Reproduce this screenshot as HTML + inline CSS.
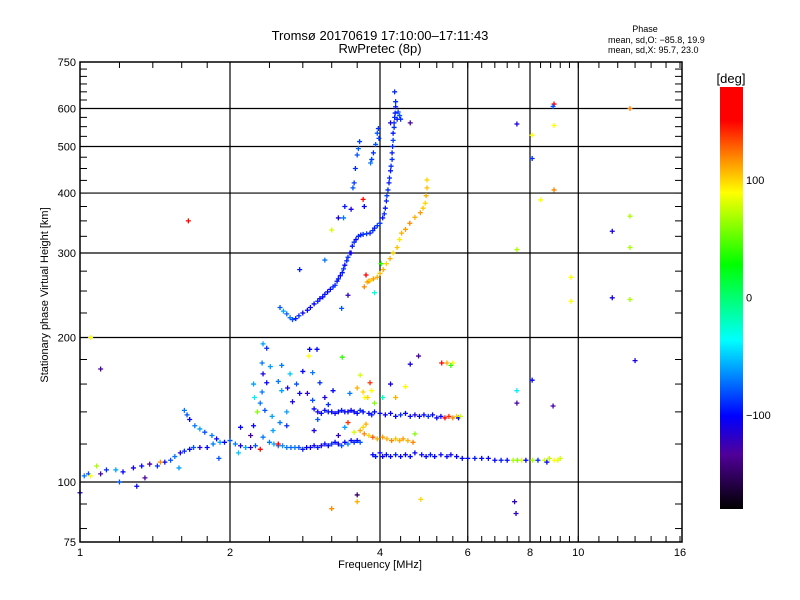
<!DOCTYPE html>
<html><head><meta charset="utf-8"><style>
html,body{margin:0;padding:0;background:#fff;}
svg{display:block;font-family:"Liberation Sans",sans-serif;}
</style></head><body>
<svg id="chart" width="800" height="600" viewBox="0 0 800 600" xmlns="http://www.w3.org/2000/svg">
<defs>
<linearGradient id="cbar" x1="0" y1="0" x2="0" y2="1">
<stop offset="0" stop-color="#ff0000"/><stop offset="0.08" stop-color="#ff0000"/>
<stop offset="0.17" stop-color="#ff8c00"/><stop offset="0.25" stop-color="#ffff00"/>
<stop offset="0.42" stop-color="#00ff00"/><stop offset="0.6" stop-color="#00ffff"/>
<stop offset="0.78" stop-color="#0000ff"/><stop offset="0.87" stop-color="#50009a"/>
<stop offset="1" stop-color="#000000"/>
</linearGradient>
</defs>
<rect width="800" height="600" fill="#fff"/>
<g id="grid"></g>
<g id="marks"></g>
<rect x="80" y="62" width="602" height="480" fill="none" stroke="#000" stroke-width="1.5"/>
<g id="axes" font-size="11" fill="#000"></g>
<text x="380" y="40" text-anchor="middle" font-size="13">Tromsø 20170619 17:10:00–17:11:43</text>
<text x="380" y="53" text-anchor="middle" font-size="13">RwPretec (8p)</text>
<text x="645" y="32" text-anchor="middle" font-size="9">Phase</text>
<text x="608" y="43" font-size="9">mean, sd,O: −85.8, 19.9</text>
<text x="608" y="53" font-size="9">mean, sd,X:  95.7, 23.0</text>
<text x="380" y="568" text-anchor="middle" font-size="11">Frequency [MHz]</text>
<text transform="translate(48,295) rotate(-90)" text-anchor="middle" font-size="11">Stationary phase Virtual Height [km]</text>
<rect x="720" y="87" width="23" height="422" fill="url(#cbar)"/>
<text x="731" y="83" text-anchor="middle" font-size="13">[deg]</text>
<g id="cbticks" font-size="11"></g>
</svg>
<script>
const xMajor=[1,2,4,6,8,10,16];
const xMinor=[1.2,1.4,1.6,1.8,2.4,2.8,3.2,3.6,4.4,4.8,5.2,5.6,6.4,6.8,7.2,7.6,8.4,8.8,9.2,9.6,11,12,13,14,15];
const xGrid=[2,4,6,8,10];
const yMajor=[75,100,200,300,400,500,600,750];
const yMinor=[80,90,120,140,160,180,225,250,275,325,350,375,425,450,475,525,550,575,625,650,675,700,725];
const yGrid=[100,200,300,400,500,600];
const cbTicks=[100,0,-100];

// [freq MHz, virtual height km, phase deg]
const upperO=[[2.52,231,-80],[2.56,227,-60],[2.6,224,-75],[2.64,220,-70],[2.67,218,-80],[2.71,219,-95],[2.75,222,-90],[2.8,225,-100],[2.86,228,-100],[2.9,231,-105],[2.95,235,-100],[3.0,238,-95],[3.03,241,-100],[3.07,243,-100],[3.1,246,-95],[3.14,249,-105],[3.18,252,-100],[3.22,255,-90],[3.25,257,-90],[3.28,262,-95],[3.3,265,-95],[3.33,269,-100],[3.36,273,-95],[3.38,278,-90],[3.4,283,-100],[3.43,289,-90],[3.45,294,-90],[3.48,300,-95],[3.52,310,-95],[3.55,316,-90],[3.58,320,-100],[3.62,325,-90],[3.66,327,-95],[3.7,328,-90],[3.76,329,-85],[3.82,330,-95],[3.87,334,-90],[3.9,338,-95],[3.95,342,-85],[4.0,346,-90],[4.05,355,-95],[4.08,362,-90],[4.1,372,-95],[4.12,385,-95],[4.13,395,-85],[4.15,406,-90],[4.17,420,-95],[4.18,430,-90],[4.2,445,-95],[4.21,455,-90],[4.23,470,-90],[4.23,485,-95],[4.24,500,-90],[4.25,515,-85],[4.25,533,-95],[4.27,548,-90],[4.27,560,-90],[4.28,575,-90],[4.29,587,-95],[4.3,605,-95],[4.3,620,-90],[4.28,650,-90],[4.35,590,-85],[4.38,580,-80],[4.4,570,-90],[4.33,570,-95],[3.95,533,-80],[3.98,520,-85],[3.97,545,-90],[3.92,505,-80],[3.88,485,-90],[3.85,470,-85],[3.83,462,-70],[3.64,512,-85],[3.62,495,-75],[3.6,480,-80],[3.57,450,-90],[3.55,420,-85],[3.53,410,-80],[3.4,375,-95],[3.38,355,-70],[3.3,355,-110],[2.76,277,-95],[3.5,300,-110],[3.35,230,-80],[3.45,245,-120]];
const upperX=[[3.77,261,110],[3.8,262,120],[3.82,263,100],[3.88,265,115],[3.95,267,110],[4.0,272,105],[4.06,277,110],[4.12,285,100],[4.19,292,110],[4.25,300,100],[4.33,308,105],[4.38,320,95],[4.42,330,110],[4.5,336,115],[4.59,346,120],[4.7,356,110],[4.82,364,115],[4.88,372,105],[4.93,381,100],[4.95,395,110],[4.97,410,105],[4.97,426,100],[3.72,255,120],[3.9,248,-30],[4.02,285,40],[3.75,270,160]];
const eTrace=[[1.02,103,-70],[1.04,104,-80],[1.0,95,-110],[1.05,103,90],[1.1,104,-130],[1.13,106,-90],[1.18,106,-60],[1.22,105,-100],[1.28,107,-110],[1.33,108,-100],[1.38,109,-130],[1.43,108,-90],[1.48,110,-100],[1.52,111,-80],[1.55,113,-70],[1.59,115,-110],[1.62,116,-90],[1.66,117,-100],[1.69,118,-80],[1.74,118,-110],[1.8,118,-100],[1.85,120,-70],[1.91,121,-60],[1.95,121,-100],[2.0,122,-80],[2.05,120,-70],[2.1,119,-110],[2.15,118,-60],[2.2,118,-120],[2.25,119,-80],[1.62,141,-70],[1.64,138,-80],[1.66,135,-100],[1.7,131,-70],[1.74,129,-60],[1.78,127,-80],[1.84,125,-70],[1.88,123,-100],[1.08,108,70],[1.2,100,-80],[1.3,98,-100],[1.45,110,120],[1.35,102,-130],[1.58,107,-60],[1.9,112,-80],[2.08,115,-50],[2.3,117,150],[1.1,172,-130]];
const lowBands=[[2.4,121,-70],[2.45,120,-60],[2.5,119,-70],[2.55,119,-65],[2.6,118,-70],[2.65,118,-75],[2.7,118,-70],[2.75,118,-80],[2.8,117,-95],[2.85,118,-100],[2.9,118,-105],[2.95,119,-100],[3.0,118,-95],[3.05,119,-110],[3.1,120,-100],[3.15,119,-100],[3.2,120,-90],[3.25,121,-100],[3.3,120,-105],[3.35,119,-80],[3.4,121,-100],[3.45,120,-70],[3.5,122,-100],[3.55,121,-90],[3.6,122,-100],[3.65,121,-80],
[2.95,142,-100],[3.0,140,-105],[3.05,139,-100],[3.1,141,-100],[3.15,140,-95],[3.2,140,-100],[3.25,139,-105],[3.3,140,-100],[3.35,141,-95],[3.4,140,-100],[3.45,140,-100],[3.5,141,-105],[3.55,140,-100],[3.6,139,-100],[3.65,141,-90],[3.7,140,-100],[3.8,139,-100],[3.85,138,-95],[3.9,140,-100],[4.0,139,-100],[4.1,138,-105],[4.2,139,-100],[4.3,137,-100],[4.4,138,-90],[4.5,139,-100],[4.6,137,-100],[4.7,138,-110],[4.8,137,-100],[4.9,138,-100],[5.0,137,-90],[5.1,138,-100],[5.2,136,-100],[5.3,137,-100],[5.4,136,150],[5.5,137,140],[5.6,136,120],[5.7,137,100],[5.75,136,-100],[5.8,137,80],
[3.87,114,-100],[3.92,113,-95],[4.0,115,-100],[4.05,113,-105],[4.12,114,-100],[4.2,113,-100],[4.3,114,-95],[4.4,113,-100],[4.5,114,-105],[4.6,113,-100],[4.7,115,-100],[4.85,114,-100],[4.95,113,-100],[5.05,114,-95],[5.15,113,-100],[5.3,114,-100],[5.45,113,-100],[5.55,114,-105],[5.7,113,-100],[5.85,112,-100],[6.0,112,-100],[6.2,112,-95],[6.4,112,-100],[6.6,112,-100],[6.8,111,-100],[7.0,111,-95],[7.2,111,-100],[7.4,111,70],[7.55,111,60],[7.7,111,80],[7.85,111,-100],[8.1,111,70],[8.3,111,-90],[8.55,111,80],[8.75,112,75],[8.95,111,90],[9.1,111,85],[9.2,112,80],[8.65,110,-100],
[3.65,128,110],[3.72,126,120],[3.8,125,100],[3.87,124,130],[3.95,123,110],[4.05,124,115],[4.13,123,110],[4.22,122,120],[4.3,123,105],[4.38,122,110],[4.45,123,115],[4.55,122,110],[4.66,121,120],[4.7,126,60],[3.7,130,100],[3.75,132,110]];
const scatter=[[2.33,194,-60],[2.37,190,-90],[2.89,189,-100],[2.99,189,-100],[2.88,183,90],[2.32,177,-70],[2.41,174,-60],[2.54,175,-70],[2.33,168,-110],[2.64,168,-50],[2.23,160,-60],[2.37,161,-100],[2.5,162,-70],[2.32,154,-70],[2.54,155,-60],[2.61,157,-110],[2.24,150,-40],[2.3,146,-70],[2.35,141,-80],[2.43,137,-60],[2.52,133,-70],[2.6,131,-90],[2.27,140,60],[2.23,131,-100],[2.33,124,-70],[2.44,128,-60],[2.67,147,-110],[2.76,153,-100],[2.86,153,-120],[2.93,148,-80],[3.03,161,-90],[3.22,155,-100],[3.48,153,-70],[3.6,157,110],[3.7,154,100],[3.73,150,90],[3.82,161,140],[3.65,167,80],[2.93,169,-70],[3.36,182,40],[4.78,183,-130],[5.32,177,150],[5.45,177,110],[5.6,177,90],[5.55,175,40],[7.53,155,-40],[7.53,146,-130],[8.9,144,-130],[8.08,163,-100],[3.78,150,100],[3.85,155,90],[3.9,146,60],[4.05,150,-20],[4.3,150,110],[4.5,158,90],[4.2,160,-110],[2.8,170,-100],[2.72,160,-80],[3.1,150,-110],[3.15,145,-90],[3.0,135,-80],[2.95,128,-110],[3.3,125,-120],[3.4,130,-60],[3.55,127,80],[3.45,133,140],[2.5,120,160],[2.2,125,-130],[2.1,130,-100],[2.6,140,-60],
[1.65,350,170],[1.05,200,90],[4.6,176,-110],[4.83,92,100],[7.45,91,-120],[7.5,86,-120],[3.6,94,-150],[3.6,91,110],[3.2,88,120],[8.94,613,170],[8.9,606,-80],[12.7,600,120],[7.53,557,-110],[8.94,553,90],[8.08,528,90],[8.08,472,-90],[8.94,406,120],[8.4,387,90],[12.7,358,70],[11.7,333,-110],[12.7,308,70],[7.53,305,70],[9.67,267,90],[9.67,238,90],[11.7,242,-110],[12.7,240,70],[13.0,179,-110],[3.7,388,150],[3.5,370,-110],[3.2,335,80],[3.1,290,-70],[4.2,560,-110],[4.6,560,-130],[3.72,375,-100]];

const groups=[upperO,upperX,eTrace,lowBands,scatter];
const X=f=>80+150*Math.log2(f);
const Y=h=>542-480*Math.log10(h/75);
const cbY=v=>297.5-v*1.175;
const stops=[[0,[255,0,0]],[0.08,[255,0,0]],[0.17,[255,140,0]],[0.25,[255,255,0]],[0.42,[0,255,0]],[0.6,[0,255,255]],[0.78,[0,0,255]],[0.87,[80,0,154]],[1,[0,0,0]]];
function col(p){let t=Math.min(1,Math.max(0,(180-p)/360));for(let i=1;i<stops.length;i++){if(t<=stops[i][0]){const a=stops[i-1],b=stops[i];const u=(t-a[0])/(b[0]-a[0]||1);const c=a[1].map((v,k)=>Math.round(v+(b[1][k]-v)*u));return `rgb(${c})`;}}return '#000';}
const NS='http://www.w3.org/2000/svg';
function mk(tag,attrs,parent){const e=document.createElementNS(NS,tag);for(const k in attrs)e.setAttribute(k,attrs[k]);parent.appendChild(e);return e;}
const grid=document.getElementById('grid'),axes=document.getElementById('axes'),marks=document.getElementById('marks'),cbt=document.getElementById('cbticks');
xGrid.forEach(f=>{const l=mk('line',{x1:X(f),x2:X(f),y1:62,y2:542,stroke:'#000','stroke-width':1.2},grid);

});
yGrid.forEach(h=>{const l=mk('line',{x1:80,x2:682,y1:Y(h),y2:Y(h),stroke:'#000','stroke-width':1.2},grid);

});
xMajor.forEach(f=>{const t=mk('text',{x:X(f),y:556,'text-anchor':'middle'},axes);t.textContent=f;

});
xMinor.concat(xMajor).forEach(f=>{mk('line',{x1:X(f),x2:X(f),y1:542,y2:536,stroke:'#000'},axes);mk('line',{x1:X(f),x2:X(f),y1:62,y2:68,stroke:'#000'},axes);});
yMajor.forEach(h=>{const t=mk('text',{x:76,y:Y(h)+4,'text-anchor':'end'},axes);t.textContent=h;

});
yMinor.concat(yMajor).forEach(h=>{mk('line',{x1:80,x2:87,y1:Y(h),y2:Y(h),stroke:'#000'},axes);mk('line',{x1:675,x2:682,y1:Y(h),y2:Y(h),stroke:'#000'},axes);});
cbTicks.forEach(v=>{const t=mk('text',{x:746,y:cbY(v)+4},cbt);t.textContent=v===-100?'−100':v;

});
groups.forEach(g=>g.forEach(d=>{const cx=X(d[0]),cy=Y(d[1]);if(cx<80||cx>682||cy<62||cy>542)return;const c=col(d[2]);
const m=mk('path',{d:`M${cx-2.5} ${cy}h5M${cx} ${cy-2.5}v5`,stroke:c,'stroke-width':1.3,fill:'none'},marks);

}));
</script>
</body></html>
